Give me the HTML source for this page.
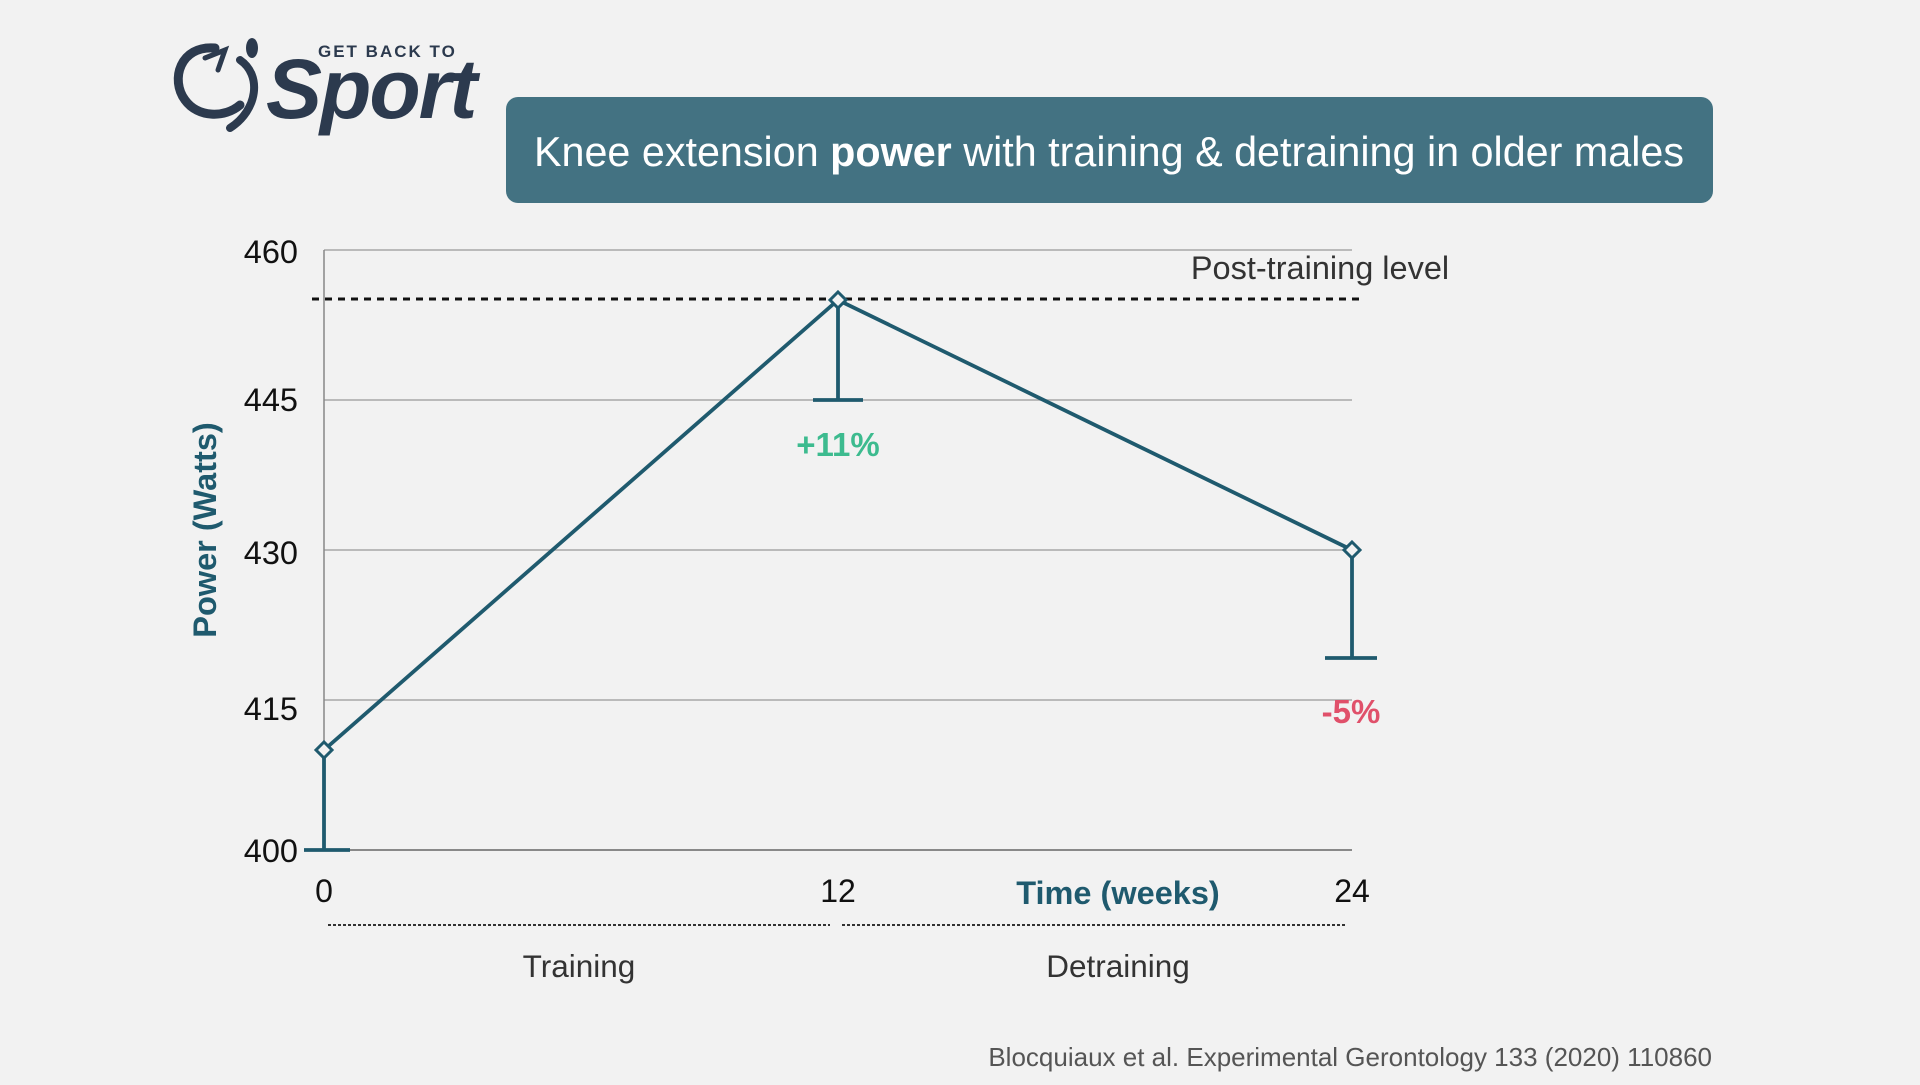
<!DOCTYPE html>
<html><head><meta charset="utf-8"><style>
body{margin:0;width:1920px;height:1080px;background:#f2f2f2;overflow:hidden;font-family:"Liberation Sans",sans-serif;}
</style></head><body>
<svg width="1920" height="1080" viewBox="0 0 1920 1080" xmlns="http://www.w3.org/2000/svg" font-family="Liberation Sans, sans-serif">
<!-- logo -->
<g fill="none" stroke="#2c3a4e" stroke-linecap="round">
<path d="M215 48 C180 45 170 80 185 100 C198 118 225 118 240 105" stroke-width="9"/>
<path d="M205 58 L225 50 L218 70" stroke-width="5"/>
<path d="M240 60 C262 75 258 110 230 128" stroke-width="8"/>
</g>
<ellipse cx="252" cy="48" rx="6" ry="10" fill="#2c3a4e"/>
<text x="318" y="57" font-size="17" font-weight="bold" fill="#2c3a4e" letter-spacing="2">GET BACK TO</text>
<text x="266" y="118" font-size="84" font-weight="bold" font-style="italic" fill="#2c3a4e" letter-spacing="-2">Sport</text>
<!-- title -->
<rect x="506" y="97" width="1207" height="106" rx="12" fill="#437282"/>
<text x="1109" y="166" font-size="41.3" fill="#fff" text-anchor="middle">Knee extension <tspan font-weight="bold">power</tspan> with training &amp; detraining in older males</text>
<!-- grid -->
<g stroke="#a8a8a8" stroke-width="1.5">
<line x1="324" y1="250" x2="1352" y2="250"/>
<line x1="324" y1="400" x2="1352" y2="400"/>
<line x1="324" y1="550" x2="1352" y2="550"/>
<line x1="324" y1="700" x2="1352" y2="700"/>
</g>
<line x1="324" y1="850" x2="1352" y2="850" stroke="#666" stroke-width="1.5"/>
<line x1="324" y1="250" x2="324" y2="850" stroke="#888" stroke-width="1.5"/>
<g font-size="32.5" fill="#111" text-anchor="end">
<text x="298" y="263">460</text>
<text x="298" y="411">445</text>
<text x="298" y="564">430</text>
<text x="298" y="720">415</text>
<text x="298" y="862">400</text>
</g>
<text transform="translate(216,530) rotate(-90)" font-size="32.5" font-weight="bold" fill="#1f5a6e" text-anchor="middle">Power (Watts)</text>
<!-- dashed post-training -->
<line x1="312" y1="299" x2="1363" y2="299" stroke="#111" stroke-width="3" stroke-dasharray="7,6"/>
<text x="1320" y="279" font-size="32.5" fill="#333" text-anchor="middle">Post-training level</text>
<!-- series -->
<g stroke="#1f5a6e" stroke-width="3.8" fill="none">
<polyline points="324,750 838,300 1352,550"/>
<line x1="324" y1="750" x2="324" y2="850"/><line x1="304" y1="850" x2="350" y2="850"/>
<line x1="838" y1="300" x2="838" y2="400"/><line x1="813" y1="400" x2="863" y2="400"/>
<line x1="1352" y1="550" x2="1352" y2="658"/><line x1="1325" y1="658" x2="1377" y2="658"/>
</g>
<g fill="#f2f2f2" stroke="#1f5a6e" stroke-width="3">
<path d="M324 742 L332 750 L324 758 L316 750Z"/>
<path d="M838 292 L846 300 L838 308 L830 300Z"/>
<path d="M1352 542 L1360 550 L1352 558 L1344 550Z"/>
</g>
<text x="838" y="456" font-size="33" font-weight="bold" fill="#3dbb8f" text-anchor="middle">+11%</text>
<text x="1351" y="723" font-size="33" font-weight="bold" fill="#e0506a" text-anchor="middle">-5%</text>
<!-- x axis -->
<g font-size="32" fill="#111" text-anchor="middle">
<text x="324" y="902">0</text><text x="838" y="902">12</text><text x="1352" y="902">24</text>
</g>
<text x="1118" y="904" font-size="32.5" font-weight="bold" fill="#1f5a6e" text-anchor="middle">Time (weeks)</text>
<g stroke="#333" stroke-width="2" stroke-dasharray="3,2">
<line x1="328" y1="925" x2="830" y2="925"/>
<line x1="842" y1="925" x2="1346" y2="925"/>
</g>
<text x="579" y="977" font-size="31.5" fill="#333" text-anchor="middle">Training</text>
<text x="1118" y="977" font-size="31.5" fill="#333" text-anchor="middle">Detraining</text>
<text x="1712" y="1066" font-size="26" fill="#555" text-anchor="end">Blocquiaux et al. Experimental Gerontology 133 (2020) 110860</text>
</svg>
</body></html>
